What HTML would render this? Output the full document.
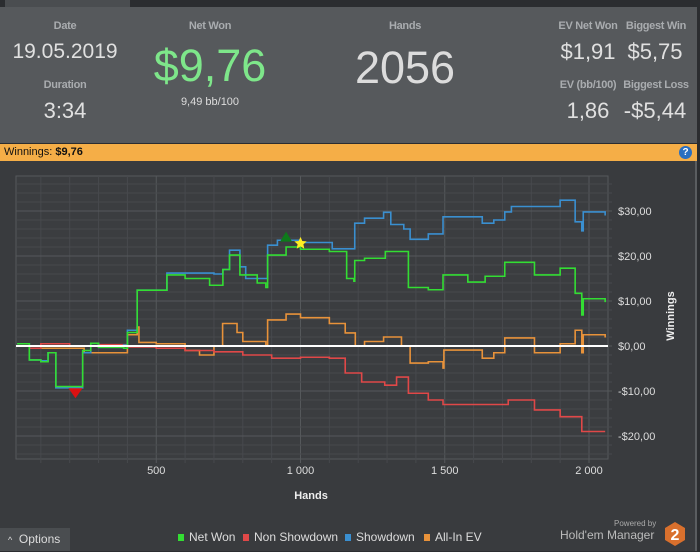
<!DOCTYPE html>
<html><head><meta charset="utf-8">
<style>
body{margin:0;width:700px;height:551px;overflow:hidden;background:#2b2d30;font-family:"Liberation Sans",sans-serif;position:relative}
.a{position:absolute;white-space:nowrap}
.lbl{color:#a9acaf;font-size:11px;font-weight:bold;transform:translateX(-50%);letter-spacing:-0.3px}
.val{color:#e0e0e0;transform:translateX(-50%)}
</style></head><body>
<div class="a" style="left:0;top:0;width:700px;height:7px;background:#2b2d30"></div>
<div class="a" style="left:5px;top:0;width:125px;height:7px;background:#4a4d50"></div>
<div class="a" style="left:0;top:7px;width:697px;height:136px;background:#56595c"></div>
<div class="a lbl" style="left:65px;top:20px">Date</div>
<div class="a val" style="left:65px;top:40px;font-size:21px">19.05.2019</div>
<div class="a lbl" style="left:65px;top:79px">Duration</div>
<div class="a val" style="left:65px;top:98px;font-size:22px">3:34</div>
<div class="a lbl" style="left:210px;top:20px">Net Won</div>
<div class="a val" style="left:210px;top:40px;font-size:45px;color:#7ee68a">$9,76</div>
<div class="a val" style="left:210px;top:96px;font-size:11px;color:#ddd">9,49 bb/100</div>
<div class="a lbl" style="left:405px;top:20px">Hands</div>
<div class="a val" style="left:405px;top:42px;font-size:45px;color:#dcdcdc">2056</div>
<div class="a lbl" style="left:588px;top:20px">EV Net Won</div>
<div class="a val" style="left:588px;top:39px;font-size:22px">$1,91</div>
<div class="a lbl" style="left:656px;top:20px">Biggest Win</div>
<div class="a val" style="left:655px;top:39px;font-size:22px">$5,75</div>
<div class="a lbl" style="left:588px;top:79px">EV (bb/100)</div>
<div class="a val" style="left:588px;top:98px;font-size:22px">1,86</div>
<div class="a lbl" style="left:656px;top:79px">Biggest Loss</div>
<div class="a val" style="left:655px;top:98px;font-size:22px">-$5,44</div>
<div class="a" style="left:0;top:144px;width:697px;height:17px;background:#f5ae47;font-size:11px;line-height:17px;color:#111"><span style="padding-left:4px">Winnings: <b>$9,76</b></span></div>
<div class="a" style="left:679px;top:146px;width:13px;height:13px;border-radius:50%;background:#2a6fc0;color:#fff;font-size:10px;font-weight:bold;text-align:center;line-height:13px">?</div>
<div class="a" style="left:0;top:161px;width:695px;height:390px;background:#393b3e;border-right:2px solid #5a5d60"></div>
<svg class="a" style="left:0;top:0" width="700" height="551" id="chart"></svg>
<div class="a" style="left:0;top:528px;width:70px;height:23px;background:#4a4d50;color:#ddd;font-size:12px;line-height:23px"><span style="padding-left:8px;font-size:9px">&#94;</span>&nbsp; Options</div>
<div class="a" style="left:614px;top:519px;font-size:8px;color:#aaa">Powered by</div>
<div class="a" style="left:560px;top:528px;font-size:12px;color:#bbb">Hold'em Manager</div>
<svg class="a" style="left:664px;top:521px" width="22" height="26"><polygon points="11,1 21,7 21,19 11,25 1,19 1,7" fill="#d9702d"/><text x="11" y="19" font-size="16" font-weight="bold" fill="#fff" text-anchor="middle" font-family="Liberation Sans">2</text></svg>
<script>
const netHands=[18,60,100,125,152,245,273,300,387,400,434,537,600,685,731,754,790,850,880,886,950,1000,1100,1160,1185,1188,1222,1294,1374,1443,1494,1580,1640,1708,1811,1900,1952,1975,1980,2056];
const netVals=[0.5,-3.1,-3.5,-1.5,-9,-1,0.6,-0.3,-0.5,3,12.4,15.8,15,13.5,17,20.2,15.8,14,13,20.2,22,21.5,21,15,14.4,19,19.5,21,13,12.5,15.8,14.2,15.5,18.6,15.8,17.3,11.7,6.9,10.5,9.76];
const sdHands=[18,60,100,125,152,245,273,300,387,400,434,537,700,731,754,790,810,886,920,1000,1110,1188,1222,1288,1313,1358,1380,1443,1494,1630,1670,1708,1731,1900,1952,1975,1980,2056];
const sdVals=[0.5,-3.1,-3.3,-1.5,-9.3,-1.5,0.6,-0.3,0.2,3.5,12.4,16.2,16,17,21.3,17.6,15,22.4,23.5,23,21.6,27.3,28.4,29.7,27,26,23.7,24.9,28.7,27.3,28,29.8,31,32.4,27.6,25.6,29.8,29];
const nsdHands=[18,60,100,200,300,400,500,600,700,800,900,1000,1100,1155,1212,1292,1333,1374,1443,1494,1720,1811,1900,1975,2056];
const nsdVals=[0,-0.5,0.5,0,0.3,-0.2,-0.5,-1,-1.3,-2,-2.7,-2.5,-2.7,-6,-8,-8.7,-6.9,-10.5,-12,-13,-12,-14.2,-15.7,-19,-19];
const evHands=[18,60,150,250,390,400,434,440,500,600,650,700,730,780,800,880,886,950,1000,1100,1155,1190,1222,1288,1350,1380,1443,1494,1497,1630,1670,1708,1811,1900,1952,1975,1980,2056];
const evVals=[0,-0.5,-0.5,-1.5,-1.5,2.5,4.2,0.8,0.5,-1,-2,0,5,3,1,0,5.8,7.1,6.3,5,2.9,0,1,2,0,-3.8,-3.5,-4.9,-0.9,-2.7,-1.5,1.8,-1.5,0.5,3.5,-1.5,2.5,1.9];
const xTicks=[500,1000,1500,2000];
const xTickLabels=["500","1 000","1 500","2 000"];
const yTicks=[30,20,10,0,-10,-20];
const yTickLabels=["$30,00","$20,00","$10,00","$0,00","-$10,00","-$20,00"];
const maxPoint=[950,24.3];
const starPoint=[1000,22.8];
const minPoint=[220,-10.5];

const PL=16,PR=608,PT=176,PB=459;
const X=h=>12+h*0.2885;
const Y=v=>346-v*4.5;
const svg=document.getElementById('chart');
const NS='http://www.w3.org/2000/svg';
function mk(t,a){const e=document.createElementNS(NS,t);for(const k in a)e.setAttribute(k,a[k]);svg.appendChild(e);return e;}
let g;
g=mk('rect',{x:PL,y:PT,width:PR-PL,height:PB-PT,fill:'#3b3d40',stroke:'#56595c'});


for(let h=100;h<=2000;h+=100){const x=X(h);const maj=h%500===0;
 g=mk('line',{x1:x,x2:x,y1:PT,y2:PB+4,stroke:maj?'#55585b':'#47494d','stroke-width':1});
 
 }
for(let v=-24;v<=36;v+=2){const y=Y(v);const maj=v%10===0;
 g=mk('line',{x1:PL,x2:PR+4,y1:y,y2:y,stroke:maj?'#55585b':'#47494d','stroke-width':1});
 
 }
xTicks.forEach((h,i)=>{g=mk('text',{x:X(h),y:474,fill:'#ddd','font-size':11,'text-anchor':'middle','font-family':'Liberation Sans'});g.textContent=xTickLabels[i];
 
 });
yTicks.forEach((v,i)=>{g=mk('text',{x:618,y:Y(v)+4,fill:'#ddd','font-size':11,'font-family':'Liberation Sans'});g.textContent=yTickLabels[i];
 
 });
g=mk('text',{x:311,y:499,fill:'#eee','font-size':11,'font-weight':'bold','text-anchor':'middle','font-family':'Liberation Sans'});g.textContent='Hands';


g=mk('text',{x:674,y:316,fill:'#eee','font-size':11,'font-weight':'bold','text-anchor':'middle','font-family':'Liberation Sans',transform:'rotate(-90 674 316)'});g.textContent='Winnings';


function step(hs,vs){let d='M'+X(hs[0])+','+Y(vs[0]);for(let i=1;i<hs.length;i++){d+=' H'+X(hs[i])+' V'+Y(vs[i]);}return d;}
[[evHands,evVals,'#e8923a','line-all-in-ev'],[nsdHands,nsdVals,'#e04848','line-non-showdown'],[sdHands,sdVals,'#3a8fd0','line-showdown'],[netHands,netVals,'#33dd33','line-net-won']].forEach(s=>{
 g=mk('path',{d:step(s[0],s[1]),fill:'none',stroke:s[2],'stroke-width':1.6});
 
 });
g=mk('line',{x1:PL,x2:PR,y1:Y(0),y2:Y(0),stroke:'#fff','stroke-width':2});


let mx=X(maxPoint[0]),my=Y(maxPoint[1]);
g=mk('polygon',{points:`${mx-6},${my+5} ${mx+6},${my+5} ${mx},${my-5}`,fill:'#0d7a1a'});


let sx=X(starPoint[0]),sy=Y(starPoint[1]);let pts=[];for(let i=0;i<10;i++){const r=i%2?3:6.5,a=-Math.PI/2+i*Math.PI/5;pts.push((sx+r*Math.cos(a)).toFixed(1)+','+(sy+r*Math.sin(a)).toFixed(1));}
g=mk('polygon',{points:pts.join(' '),fill:'#ffee22'});


let nx=X(minPoint[0]),ny=Y(minPoint[1]);
g=mk('polygon',{points:`${nx-7},${ny-5} ${nx+7},${ny-5} ${nx},${ny+5}`,fill:'#dd1111'});


const legNames=['Net Won','Non Showdown','Showdown','All-In EV'];
const legColors=['#33dd33','#e04848','#3a8fd0','#e8923a'];
const legX=[178,243,345,424];
legNames.forEach((n,i)=>{
 g=mk('rect',{x:legX[i],y:534,width:6,height:7,fill:legColors[i]});
 
 
 g=mk('text',{x:legX[i]+11,y:541,fill:'#ddd','font-size':12,'font-family':'Liberation Sans'});g.textContent=n;
 
 
});
</script>
</body></html>
